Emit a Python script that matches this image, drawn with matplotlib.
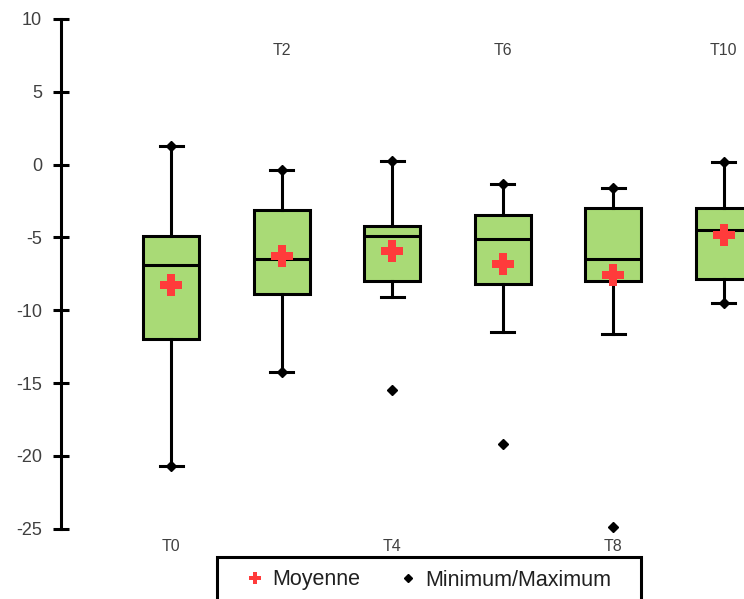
import matplotlib
matplotlib.use("Agg")
import matplotlib.pyplot as plt
from matplotlib.patches import Rectangle
from matplotlib.lines import Line2D

plt.rcParams['font.family'] = ['Liberation Sans', 'DejaVu Sans']
plt.rcParams['axes.unicode_minus'] = False

categories = ["T0", "T2", "T4", "T6", "T8", "T10"]
q1 = [-12.0, -8.9, -8.0, -8.2, -8.0, -7.85]
median = [-6.9, -6.5, -4.9, -5.1, -6.5, -4.5]
q3 = [-4.9, -3.1, -4.2, -3.45, -2.95, -2.95]
mean = [-8.3, -6.3, -5.95, -6.85, -7.6, -4.8]
whisker_low = [-20.7, -14.25, -9.1, -11.5, -11.65, -9.5]
whisker_high = [1.3, -0.35, 0.25, -1.3, -1.6, 0.2]
minimum = [-20.7, -14.25, -15.5, -19.2, -24.9, -9.5]
maximum = [1.3, -0.35, 0.25, -1.3, -1.6, 0.2]

positions = list(range(1, len(categories) + 1))

fig = plt.figure(figsize=(7.44, 5.99), dpi=100)
ax = fig.add_axes([0.0816, 0.1174, 1.0397, 0.8509])

stats = []
for i, c in enumerate(categories):
    stats.append(dict(label=c, q1=q1[i], med=median[i], q3=q3[i], mean=mean[i],
                      whislo=whisker_low[i], whishi=whisker_high[i], fliers=[]))

lw = 2.2
ax.bxp(stats, positions=positions, widths=0.51, patch_artist=True,
       showmeans=False, showfliers=False,
       boxprops=dict(facecolor='#a9da76', edgecolor='black', linewidth=lw),
       medianprops=dict(color='black', linewidth=lw),
       whiskerprops=dict(color='black', linewidth=lw),
       capprops=dict(color='black', linewidth=lw),
       capwidths=0.21)

ax.plot(positions, mean, linestyle='none', marker='P', color='#ff3b3b',
        markersize=16.5, markeredgewidth=0, zorder=5)
ax.plot(positions, minimum, linestyle='none', marker='D', color='black',
        markersize=5, zorder=6, clip_on=False)
ax.plot(positions, maximum, linestyle='none', marker='D', color='black',
        markersize=5, zorder=6, clip_on=False)

ax.set_xlim(0, 7)
ax.set_ylim(-25, 10)
ax.set_yticks([10, 5, 0, -5, -10, -15, -20, -25])
ax.set_xticks([])
for s in ['top', 'right', 'bottom']:
    ax.spines[s].set_visible(False)
ax.spines['left'].set_linewidth(lw)
ax.tick_params(axis='y', direction='inout', length=11, width=lw,
               labelsize=13, labelcolor='#404040', pad=8)

for i, c in enumerate(categories):
    if i % 2 == 0:
        ax.text(positions[i], -26.2, c, ha='center', va='center',
                fontsize=11.5, color='#404040', clip_on=False)
    else:
        ax.text(positions[i], 7.85, c, ha='center', va='center',
                fontsize=11.5, color='#404040')

fig.add_artist(Rectangle((217 / 744, -0.05), (640.7 - 217) / 744, 0.05 + (599 - 557.3) / 599,
                         transform=fig.transFigure, fill=False, edgecolor='black',
                         linewidth=lw))
handles = [Line2D([], [], linestyle='none', marker='P', color='#ff3b3b', markersize=9,
                  markeredgewidth=0),
           Line2D([], [], linestyle='none', marker='D', color='black', markersize=4)]
fig.legend(handles, ['Moyenne', 'Minimum/Maximum'], loc='center',
           bbox_to_anchor=(428.8 / 744, (599 - 580) / 599), ncol=2, frameon=False,
           fontsize=15.5, handlelength=0.8, handletextpad=0.4, columnspacing=1.8,
           labelcolor='#202020')

fig.savefig("out.png", dpi=100)
